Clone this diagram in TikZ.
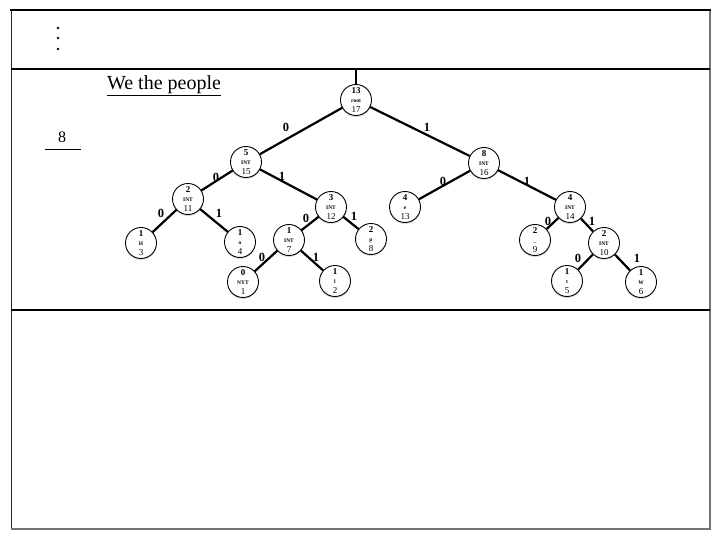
\documentclass[tikz,border=0pt]{standalone}
\usepackage{fontspec}
\setmainfont{Liberation Serif}
\usetikzlibrary{shadows}
\tikzset{
  hnode/.style={circle, draw=black, line width=0.9pt, fill=white, minimum size=31pt, inner sep=0pt,
    align=center, font=\fontsize{9}{9.2}\selectfont,
    drop shadow={shadow xshift=0pt, shadow yshift=-1.5pt, opacity=0.3}},
  tedge/.style={line width=2.2pt, black},
  elab/.style={font=\fontsize{12.5}{12.5}\selectfont\bfseries, inner sep=0pt},
  rule/.style={line width=2.2pt, black},
}
\newcommand{\sym}[1]{{\fontsize{5.5}{9.2}\selectfont\textbf{#1}}}
\newcommand{\hn}[3]{\textbf{#1}\\\sym{#2}\\#3}
\begin{document}
\begin{tikzpicture}[x=1pt, y=-1pt]
  \useasboundingbox (0,0) rectangle (720,540);
  % frame
  \draw[line width=0.8pt, black!85] (11,10) -- (11,529);
  \draw[line width=1.2pt, black!55] (710,10) -- (710,529) -- (11,529);
  \draw[line width=2pt] (10,10) -- (711,10);
  \coordinate (divA) at (11,69);
  \coordinate (divAe) at (710,69);
  \coordinate (divB) at (11,310);
  \coordinate (divBe) at (710,310);
  \draw[rule] (divA) -- (divAe);
  \draw[rule] (divB) -- (divBe);
  % vertical ellipsis
  \foreach \yy in {28,38,49} \fill (58,\yy) circle (1.3pt);
  % text
  \node[font=\fontsize{20}{20}\selectfont, inner sep=1pt] (txt) at (164,86) {\underline{We the people}};
  \node[font=\fontsize{16}{16}\selectfont, inner sep=0pt] (cnt) at (62,137) {8};
  \draw[line width=1.4pt] (45,149.5) -- (81,149.5);
  % tree nodes
  \node[hnode] (root) at (356,100) {\hn{13}{root}{17}};
  \node[hnode] (n15) at (246,162) {\hn{5}{INT}{15}};
  \node[hnode] (n16) at (484,163) {\hn{8}{INT}{16}};
  \node[hnode] (n11) at (188,199) {\hn{2}{INT}{11}};
  \node[hnode] (n12) at (331,207) {\hn{3}{INT}{12}};
  \node[hnode] (e) at (405,207) {\hn{4}{e}{13}};
  \node[hnode] (n14) at (570,207) {\hn{4}{INT}{14}};
  \node[hnode] (H) at (141,243) {\hn{1}{H}{3}};
  \node[hnode] (o) at (240,242) {\hn{1}{o}{4}};
  \node[hnode] (n7) at (289,240) {\hn{1}{INT}{7}};
  \node[hnode] (p) at (371,239) {\hn{2}{p}{8}};
  \node[hnode] (sp) at (535,240) {\hn{2}{\_}{9}};
  \node[hnode] (n10) at (604,243) {\hn{2}{INT}{10}};
  \node[hnode] (NYT) at (243,282) {\hn{0}{NYT}{1}};
  \node[hnode] (l) at (335,281) {\hn{1}{l}{2}};
  \node[hnode] (t) at (567,281) {\hn{1}{t}{5}};
  \node[hnode] (W) at (641,282) {\hn{1}{W}{6}};
  % tree edges
  \coordinate (rtop) at (356,69);
  \draw[tedge] (root) -- (rtop);
  \draw[tedge] (root) -- (n15);
  \draw[tedge] (root) -- (n16);
  \draw[tedge] (n15) -- (n11);
  \draw[tedge] (n15) -- (n12);
  \draw[tedge] (n11) -- (H);
  \draw[tedge] (n11) -- (o);
  \draw[tedge] (n12) -- (n7);
  \draw[tedge] (n12) -- (p);
  \draw[tedge] (n7) -- (NYT);
  \draw[tedge] (n7) -- (l);
  \draw[tedge] (n16) -- (e);
  \draw[tedge] (n16) -- (n14);
  \draw[tedge] (n14) -- (sp);
  \draw[tedge] (n14) -- (n10);
  \draw[tedge] (n10) -- (t);
  \draw[tedge] (n10) -- (W);
  % branch labels
  \node[elab] (b1) at (286,127) {0};
  \node[elab] (b2) at (427,127) {1};
  \node[elab] (b3) at (216,177) {0};
  \node[elab] (b4) at (282,176) {1};
  \node[elab] (b5) at (161,213) {0};
  \node[elab] (b6) at (219,213) {1};
  \node[elab] (b7) at (306,218) {0};
  \node[elab] (b8) at (354,216) {1};
  \node[elab] (b9) at (262,257) {0};
  \node[elab] (b10) at (316,257) {1};
  \node[elab] (b11) at (443,181) {0};
  \node[elab] (b12) at (527,181) {1};
  \node[elab] (b13) at (548,221) {0};
  \node[elab] (b14) at (592,221) {1};
  \node[elab] (b15) at (578,258) {0};
  \node[elab] (b16) at (637,258) {1};
\end{tikzpicture}
\end{document}
